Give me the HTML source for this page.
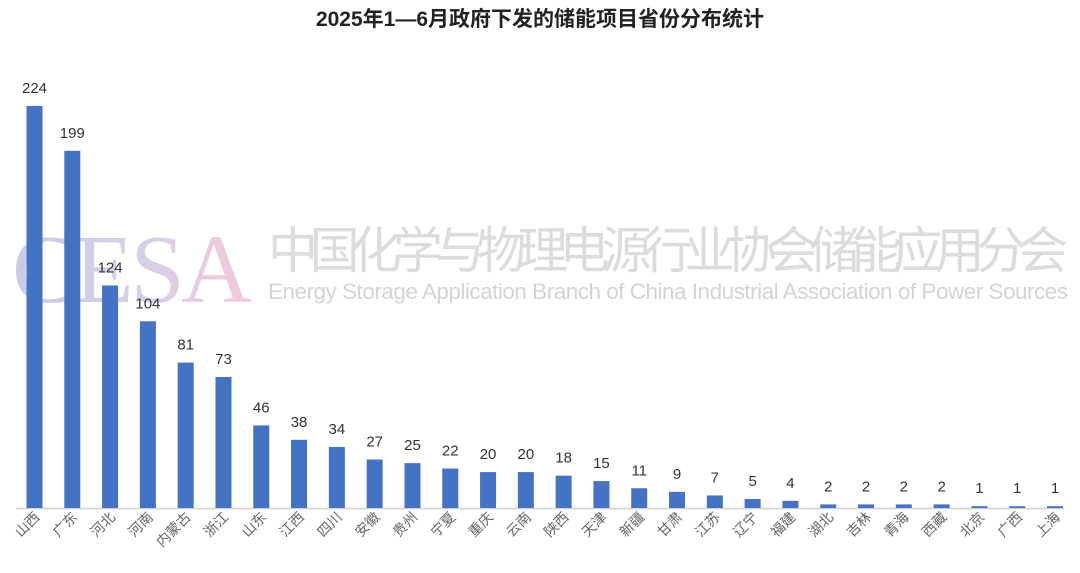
<!DOCTYPE html>
<html><head><meta charset="utf-8"><style>
body{margin:0;background:#fff;}
svg{display:block;}
</style></head><body>
<svg width="1080" height="573" xmlns="http://www.w3.org/2000/svg" font-family="Liberation Sans, Noto Sans CJK SC, sans-serif">
<defs><linearGradient id="wg" x1="0" x2="1" y1="0" y2="0"><stop offset="0" stop-color="#b8bce0"/><stop offset="0.6" stop-color="#ccc0e0"/><stop offset="1" stop-color="#f0b8cc"/></linearGradient></defs>
<rect width="1080" height="573" fill="#fff"/>
<text x="540" y="26" text-anchor="middle" font-size="21" font-weight="bold" fill="#222">2025年1—6月政府下发的储能项目省份分布统计</text>
<text x="12" y="302" font-family="Liberation Serif, serif" font-size="98" fill="url(#wg)" opacity="0.75" textLength="240">CESA</text>
<text x="268" y="268" font-size="50" fill="#dcdcdc" font-family="Noto Sans CJK SC, sans-serif" textLength="800">中国化学与物理电源行业协会储能应用分会</text>
<text x="268" y="299" font-size="22.5" fill="#d4d4d4" textLength="800">Energy Storage Application Branch of China Industrial Association of Power Sources</text>
<line x1="16" y1="508.5" x2="1064" y2="508.5" stroke="#d0d0d0" stroke-width="1.5"/>
<g id="bars"></g>
</svg>
<script>
var d=[["山西",224],["广东",199],["河北",124],["河南",104],["内蒙古",81],["浙江",73],["山东",46],["江西",38],["四川",34],["安徽",27],["贵州",25],["宁夏",22],["重庆",20],["云南",20],["陕西",18],["天津",15],["新疆",11],["甘肃",9],["江苏",7],["辽宁",5],["福建",4],["湖北",2],["吉林",2],["青海",2],["西藏",2],["北京",1],["广西",1],["上海",1]];
var g=document.getElementById('bars'),s='';
var n=d.length,x0=34.5,sp=(1055-34.5)/(n-1);
for(var i=0;i<n;i++){var cx=x0+i*sp,h=d[i][1]*1.795,y=508-h;
s+='<rect x="'+(cx-8)+'" y="'+y+'" width="16" height="'+h+'" fill="#4472c4"/>';
s+='<text x="'+cx+'" y="'+(y-13)+'" text-anchor="middle" font-size="15" fill="#333">'+d[i][1]+'</text>';
s+='<text transform="translate('+(cx+6)+',518) rotate(-45)" text-anchor="end" font-size="14" fill="#666">'+d[i][0]+'</text>';}
g.innerHTML=s;
</script>
</body></html>
